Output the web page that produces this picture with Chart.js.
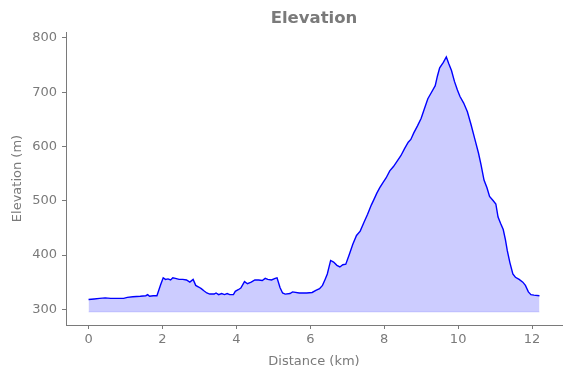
<!DOCTYPE html>
<html>
<head>
<meta charset="utf-8">
<script src="https://cdn.jsdelivr.net/npm/chart.js@4"></script>
<style>
html,body{margin:0;padding:0;background:#fff;}
#wrap{width:571px;height:378px;}
</style>
</head>
<body>
<div id="wrap"><canvas id="c" width="571" height="378"></canvas></div>
<script>
const distanceKm = [0.00,0.15,0.30,0.45,0.60,0.80,0.95,1.05,1.20,1.40,1.55,1.60,1.65,1.75,1.85,1.95,2.02,2.08,2.15,2.22,2.28,2.35,2.45,2.55,2.65,2.74,2.83,2.90,2.98,3.05,3.12,3.20,3.28,3.40,3.45,3.52,3.60,3.68,3.75,3.82,3.92,3.97,4.05,4.12,4.22,4.30,4.40,4.50,4.60,4.70,4.78,4.85,4.95,5.05,5.10,5.18,5.25,5.32,5.45,5.52,5.70,5.90,6.05,6.15,6.25,6.33,6.40,6.46,6.55,6.63,6.72,6.80,6.88,6.96,7.05,7.15,7.25,7.35,7.45,7.55,7.65,7.72,7.80,7.88,7.97,8.05,8.15,8.25,8.35,8.45,8.55,8.65,8.72,8.80,8.90,9.00,9.08,9.18,9.28,9.38,9.44,9.50,9.60,9.68,9.75,9.82,9.90,9.98,10.05,10.15,10.25,10.35,10.45,10.55,10.62,10.70,10.78,10.85,10.95,11.02,11.08,11.15,11.22,11.28,11.33,11.40,11.48,11.55,11.65,11.75,11.82,11.90,11.97,12.05,12.20];
const elevationM = [318,319,320,321,320,320,320,322,323,324,325,327,324,325,325,345,358,355,356,354,358,357,355,355,354,350,355,344,341,338,334,330,328,328,330,327,329,327,329,327,327,333,336,339,351,347,350,354,354,353,357,355,354,357,358,340,330,328,329,332,330,330,331,335,338,344,355,365,390,387,381,378,382,383,400,420,436,444,460,475,492,502,514,524,534,542,555,563,573,583,596,608,613,625,638,652,668,688,700,712,730,745,755,765,752,740,720,704,692,680,664,640,614,588,566,538,524,508,500,494,470,458,447,428,408,386,365,359,355,350,344,332,327,326,325];
const baselineM = 295;
const xTicks = [0,2,4,6,8,10,12];
const yTicks = [300,400,500,600,700,800];
const xRange = [-0.61, 12.81];
const yRange = [271, 811];
const chartTitle = 'Elevation';
const xLabel = 'Distance (km)';
const yLabel = 'Elevation (m)';

const gray = '#7a7a7a';
const font = {family: "'DejaVu Sans', sans-serif", size: 13};

const profile = distanceKm.map((d, i) => ({x: d, y: elevationM[i]}));
const base = [{x: distanceKm[0], y: baselineM}, {x: distanceKm[distanceKm.length - 1], y: baselineM}];

const titlePlugin = {
  id: 'centerTitle',
  afterDraw(chart) {
    const ctx = chart.ctx, a = chart.chartArea;
    ctx.save();
    ctx.fillStyle = gray;
    ctx.font = "bold 16.5px 'DejaVu Sans', sans-serif";
    ctx.textAlign = 'center';
    ctx.textBaseline = 'middle';
    ctx.fillText(chartTitle, (a.left + a.right) / 2, 18.5);
    ctx.restore();
  }
};

new Chart(document.getElementById('c'), {
  type: 'line',
  data: {
    datasets: [
      {
        data: profile,
        borderColor: '#0000ff',
        borderWidth: 1.4,
        backgroundColor: 'rgba(0,0,255,0.2)',
        fill: {value: baselineM},
        pointRadius: 0,
        tension: 0
      },
      {
        data: base,
        borderColor: 'rgba(0,0,255,0.12)',
        borderWidth: 1,
        pointRadius: 0,
        fill: false
      }
    ]
  },
  plugins: [titlePlugin],
  options: {
    responsive: false,
    animation: false,
    layout: {padding: {top: 32, right: 9, left: 0, bottom: 0}},
    plugins: {legend: {display: false}, tooltip: {enabled: false}, title: {display: false}},
    scales: {
      x: {
        type: 'linear',
        min: xRange[0], max: xRange[1],
        afterBuildTicks: s => { s.ticks = xTicks.map(v => ({value: v})); },
        afterFit: s => { s.height = 53; },
        ticks: {color: gray, font: font, padding: 3, maxRotation: 0, callback: v => String(v)},
        grid: {drawOnChartArea: false, drawTicks: true, tickLength: 4, color: gray},
        border: {display: true, color: gray, width: 1},
        title: {display: true, text: xLabel, color: gray, font: font, padding: {top: 0, bottom: 9}}
      },
      y: {
        type: 'linear',
        min: yRange[0], max: yRange[1],
        afterBuildTicks: s => { s.ticks = yTicks.map(v => ({value: v})); },
        afterFit: s => { s.width = 66; },
        ticks: {color: gray, font: font, padding: 5, callback: v => String(v)},
        grid: {drawOnChartArea: false, drawTicks: true, tickLength: 4, color: gray},
        border: {display: true, color: gray, width: 1},
        title: {display: true, text: yLabel, color: gray, font: font, padding: {top: 10, bottom: 0}}
      }
    }
  }
});
</script>
</body>
</html>
